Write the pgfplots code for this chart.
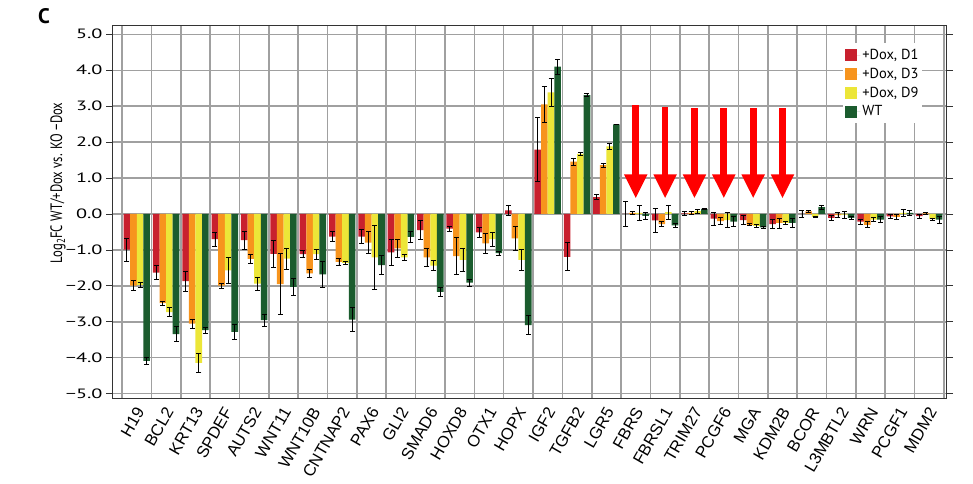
\documentclass[border=0pt]{standalone}
\usepackage{pgfplots}
\pgfplotsset{compat=1.18}
\usepackage{pgfplotstable}
\usepackage{fontspec}
\setmainfont{PT Sans}
\newfontfamily\arialfont{Liberation Sans}
\newfontfamily\tickfont[FakeStretch=1.5]{PT Sans}
\definecolor{cDa}{RGB}{200,32,46}
\definecolor{cDb}{RGB}{247,148,29}
\definecolor{cDc}{RGB}{236,230,56}
\definecolor{cWT}{RGB}{27,92,46}
\definecolor{arr}{RGB}{255,0,0}
\definecolor{gridc}{RGB}{160,160,160}

\pgfplotstableread{
idx d1 e1 d3 e3 d9 e9 wt ewt
0  -0.99 0.32 -1.99 0.15 -1.97 0.08 -4.09 0.09
1  -1.63 0.20 -2.48 0.06 -2.73 0.13 -3.34 0.20
2  -1.87 0.28 -3.05 0.13 -4.14 0.27 -3.23 0.08
3  -0.70 0.20 -1.99 0.07 -1.57 0.37 -3.28 0.20
4  -0.73 0.25 -1.25 0.12 -1.94 0.18 -2.95 0.17
5  -1.11 0.37 -1.95 0.84 -1.24 0.29 -2.03 0.23
6  -1.12 0.10 -1.65 0.12 -1.12 0.14 -1.68 0.35
7  -0.63 0.14 -1.33 0.10 -1.36 0.05 -2.94 0.34
8  -0.63 0.20 -0.80 0.31 -1.21 0.90 -1.42 0.27
9  -1.07 0.35 -0.96 0.24 -1.21 0.09 -0.64 0.16
10 -0.45 0.26 -1.21 0.26 -1.44 0.14 -2.17 0.12
11 -0.41 0.07 -1.17 0.51 -1.28 0.33 -1.91 0.10
12 -0.51 0.13 -0.82 0.27 -0.70 0.20 -1.09 0.06
13  0.10 0.15 -0.68 0.34 -1.28 0.30 -3.09 0.26
14  1.79 0.89  3.05 0.51  3.38 0.38  4.10 0.21
15 -1.19 0.39  1.46 0.10  1.67 0.03  3.31 0.05
16  0.47 0.07  1.36 0.06  1.88 0.07  2.49 0.01
17  0.00 0.34  0.03 0.05  0.03 0.21 -0.05 0.10
18 -0.18 0.33 -0.28 0.07  0.05 0.20 -0.32 0.06
19  0.02 0.05  0.03 0.03  0.08 0.05  0.14 0.01
20 -0.13 0.18 -0.20 0.10 -0.17 0.21 -0.21 0.13
21 -0.17 0.12 -0.30 0.03 -0.33 0.03 -0.37 0.02
22 -0.28 0.12 -0.25 0.14 -0.25 0.03 -0.25 0.12
23  0.00 0.10  0.07 0.03 -0.08 0.02  0.19 0.06
24 -0.11 0.08 -0.03 0.07 -0.02 0.10 -0.11 0.03
25 -0.21 0.07 -0.30 0.08 -0.16 0.06 -0.16 0.08
26 -0.07 0.05 -0.08 0.07  0.03 0.09  0.03 0.08
27 -0.06 0.05  0.02 0.02 -0.14 0.03 -0.16 0.10
}\data

\begin{document}
\begin{tikzpicture}
\pgfplotsset{
  myerr/.style={error bars/.cd, y dir=both, y explicit,
    error bar style={black, line width=0.8pt},
    error mark options={rotate=90, mark size=2.5pt, black, line width=0.8pt}},
}
\begin{axis}[
  name=main, at={(0,0)}, anchor=south west,
  scale only axis, width=833pt, height=372pt,
  xmin=-0.81, xmax=27.57, ymin=-5.12, ymax=5.23,
  ybar=0pt, bar width=0.225,
  every axis plot post/.append style={legend image code/.code={\fill[##1, draw=none] (0pt,-6pt) rectangle (12pt,6pt); \path (0pt,0pt) -- (15pt,0pt);}},
  xtick={-0.5,0.5,...,27.5},
  xticklabels={},
  xtick style={draw=none},
  xmajorgrids=true,
  major x grid style={gridc, line width=1.6pt},
  extra x ticks={0,1,...,27},
  extra x tick labels={H19,BCL2,KRT13,SPDEF,AUTS2,WNT11,WNT10B,CNTNAP2,PAX6,GLI2,SMAD6,HOXD8,OTX1,HOPX,IGF2,TGFB2,LGR5,FBRS,FBRSL1,TRIM27,PCGF6,MGA,KDM2B,BCOR,L3MBTL2,WRN,PCGF1,MDM2},
  extra x tick style={grid=none, tick style={draw=none},
    tick label style={font=\arialfont\fontsize{16.5}{17}\selectfont, xshift=5pt, yshift=-1pt, rotate=60, anchor=east}},
  ytick={-5,-4,...,5},
  yticklabels={−5.0,−4.0,−3.0,−2.0,−1.0,0.0,1.0,2.0,3.0,4.0,5.0},
  y tick label style={font=\tickfont\fontsize{13.5}{14}\selectfont},
  ymajorgrids=true,
  major y grid style={gridc, line width=1.4pt},
  tick align=outside, major tick length=7pt,
  ytick style={black!80, line width=0.8pt},
  extra y ticks={0}, extra y tick labels={},
  extra y tick style={grid style={black, line width=1.2pt}},
  axis line style={black!80, line width=1pt},
  ylabel={\scalebox{1}[1.3]{Log\textsubscript{2}FC WT/+Dox vs. KO −Dox}},
  ylabel style={at={(axis description cs:-0.066,0.578)}, anchor=center, font=\fontsize{12.7}{14}\selectfont},
  legend style={at={(axis description cs:0.972,0.954)}, anchor=north east, draw=none, fill=white,
    font=\fontsize{14.5}{16}\selectfont, inner xsep=2pt, inner ysep=4pt, row sep=3pt, cells={anchor=west}},
]
\addplot[fill=cDa, draw=none, myerr] table[x=idx, y=d1, y error=e1]{\data};
\addplot[fill=cDb, draw=none, myerr] table[x=idx, y=d3, y error=e3]{\data};
\addplot[fill=cDc, draw=none, myerr] table[x=idx, y=d9, y error=e9]{\data};
\addplot[fill=cWT, draw=none, myerr] table[x=idx, y=wt, y error=ewt]{\data};
\legend{+Dox{,} D1,+Dox{,} D3,+Dox{,} D9,WT}
\fill[arr] (axis cs:16.885,1.07) rectangle (axis cs:17.115,3.02);
\fill[arr] (axis cs:16.6,1.1) -- (axis cs:17.4,1.1) -- (axis cs:17,0.45) -- cycle;
\fill[arr] (axis cs:17.885,1.07) rectangle (axis cs:18.115,2.98);
\fill[arr] (axis cs:17.6,1.1) -- (axis cs:18.4,1.1) -- (axis cs:18,0.45) -- cycle;
\fill[arr] (axis cs:18.885,1.07) rectangle (axis cs:19.115,2.94);
\fill[arr] (axis cs:18.6,1.1) -- (axis cs:19.4,1.1) -- (axis cs:19,0.45) -- cycle;
\fill[arr] (axis cs:19.885,1.07) rectangle (axis cs:20.115,2.94);
\fill[arr] (axis cs:19.6,1.1) -- (axis cs:20.4,1.1) -- (axis cs:20,0.45) -- cycle;
\fill[arr] (axis cs:20.885,1.07) rectangle (axis cs:21.115,2.94);
\fill[arr] (axis cs:20.6,1.1) -- (axis cs:21.4,1.1) -- (axis cs:21,0.45) -- cycle;
\fill[arr] (axis cs:21.885,1.07) rectangle (axis cs:22.115,2.94);
\fill[arr] (axis cs:21.6,1.1) -- (axis cs:22.4,1.1) -- (axis cs:22,0.45) -- cycle;
\end{axis}
\node[font=\bfseries\fontsize{21}{21}\selectfont] at (-69pt,382pt) {C};
\pgfresetboundingbox
\path (-113pt,-85pt) rectangle (860pt,398pt);
\end{tikzpicture}
\end{document}
